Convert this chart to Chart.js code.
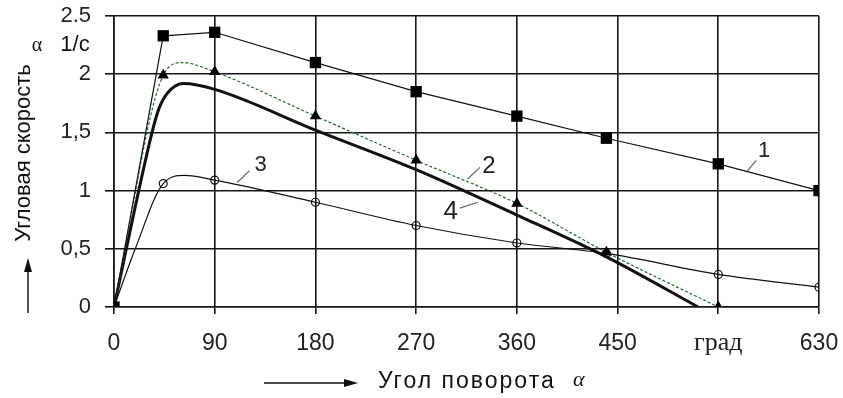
<!DOCTYPE html>
<html>
<head>
<meta charset="utf-8">
<script src="https://cdn.jsdelivr.net/npm/chart.js@4.4.1/dist/chart.umd.min.js"></script>
<style>
  html, body { margin: 0; padding: 0; background: #fff; }
  #wrap { width: 843px; height: 398px; }
</style>
</head>
<body>
<div id="wrap"><canvas id="speedChart" width="843" height="398"></canvas></div>
<script>
// tick labels as on the drawing
var xTickLabels = ['0', '90', '180', '270', '360', '450', 'град', '630'];
var yTickLabels = ['0', '0,5', '1', '1,5', '2', '2.5'];

// angles where markers sit
var markerAngles = [0, 44, 90, 180, 270, 360, 440, 540, 630];

// curve 1 (squares)
var angles1 = [0, 44, 90, 180, 270, 360, 440, 540, 630];
var speed1  = [0, 2.33, 2.36, 2.10, 1.85, 1.64, 1.45, 1.23, 1.00];

// curve 2 (triangles, green)
var angles2 = [0, 44, 61, 90, 180, 270, 360, 440, 540];
var speed2  = [0, 1.99, 2.10, 2.02, 1.64, 1.26, 0.89, 0.47, 0];

// curve 3 (open circles)
var angles3 = [0, 19, 44, 63, 90, 180, 270, 360, 440, 540, 630];
var speed3  = [0, 0.50, 1.06, 1.13, 1.09, 0.90, 0.70, 0.55, 0.46, 0.28, 0.17];

// curve 4 (thick, no markers)
var angles4 = [0, 34, 40, 48, 62, 90, 180, 270, 360, 440, 522];
var speed4  = [0, 1.50, 1.70, 1.84, 1.92, 1.87, 1.52, 1.18, 0.79, 0.43, 0];

function toPoints(xs, ys){
  var pts = [];
  for (var i = 0; i < xs.length; i++){
    pts.push({x: xs[i], y: ys[i]});
  }
  return pts;
}

function markerSize(r){
  return function(ctx){
    var p = ctx.raw;
    if (!p) return 0;
    return markerAngles.indexOf(p.x) >= 0 ? r : 0;
  };
}

var FONT = '"Liberation Sans", Arial, sans-serif';

// numbers of curves with their leader lines (data coords)
var curveNotes = [
  {text: '1', x: 581, y: 1.34, size: 22, from: [566, 1.17], to: [574, 1.26]},
  {text: '2', x: 335, y: 1.21, size: 24, from: [316, 1.10], to: [327, 1.20]},
  {text: '3', x: 131, y: 1.22, size: 22, from: [110, 1.07], to: [121, 1.17]},
  {text: '4', x: 301, y: 0.82, size: 26, from: [309, 0.85], to: [325, 0.90]}
];

function arrow(ctx, x1, y1, x2, y2){
  var a = Math.atan2(y2 - y1, x2 - x1);
  var len = 14, w = 4;
  ctx.beginPath();
  ctx.moveTo(x1, y1);
  ctx.lineTo(x2 - Math.cos(a) * len, y2 - Math.sin(a) * len);
  ctx.stroke();
  ctx.beginPath();
  ctx.moveTo(x2, y2);
  ctx.lineTo(x2 - Math.cos(a) * len - Math.sin(a) * w, y2 - Math.sin(a) * len + Math.cos(a) * w);
  ctx.lineTo(x2 - Math.cos(a) * len + Math.sin(a) * w, y2 - Math.sin(a) * len - Math.cos(a) * w);
  ctx.closePath();
  ctx.fill();
}

var notesPlugin = {
  id: 'notes',
  afterDraw: function(chart){
    var ctx = chart.ctx;
    var xs = chart.scales.x, ys = chart.scales.y;
    ctx.save();
    ctx.fillStyle = '#222';
    ctx.strokeStyle = '#222';
    ctx.lineWidth = 1.5;

    // curve numbers
    curveNotes.forEach(function(n){
      ctx.strokeStyle = '#666';
      ctx.lineWidth = 1.2;
      ctx.beginPath();
      ctx.moveTo(xs.getPixelForValue(n.from[0]), ys.getPixelForValue(n.from[1]));
      ctx.lineTo(xs.getPixelForValue(n.to[0]), ys.getPixelForValue(n.to[1]));
      ctx.stroke();
      ctx.font = n.size + 'px ' + FONT;
      ctx.textAlign = 'center';
      ctx.textBaseline = 'middle';
      ctx.fillText(n.text, xs.getPixelForValue(n.x), ys.getPixelForValue(n.y));
    });

    ctx.strokeStyle = '#111';
    ctx.fillStyle = '#111';
    ctx.lineWidth = 1.5;

    // x title with arrow
    arrow(ctx, 264, 383, 358, 383);
    ctx.font = '23px ' + FONT;
    ctx.textAlign = 'left';
    ctx.textBaseline = 'middle';
    if ('letterSpacing' in ctx) ctx.letterSpacing = '2px';
    ctx.fillText('Угол поворота', 378, 382);
    if ('letterSpacing' in ctx) ctx.letterSpacing = '0px';
    ctx.font = 'italic 22px "Liberation Serif", serif';
    ctx.fillText('α', 573, 380);

    // y title with arrow
    arrow(ctx, 28, 313, 28, 258);
    ctx.save();
    ctx.translate(30, 153);
    ctx.rotate(-Math.PI / 2);
    ctx.font = '22px ' + FONT;
    ctx.textAlign = 'center';
    ctx.textBaseline = 'alphabetic';
    ctx.fillText('Угловая скорость', 0, 0);
    ctx.restore();

    // units
    ctx.textAlign = 'center';
    ctx.textBaseline = 'middle';
    ctx.font = '20px "Liberation Serif", serif';
    ctx.fillText('α', 37, 46);
    ctx.font = '22px ' + FONT;
    ctx.fillText('1/с', 75, 45);
    ctx.restore();
  }
};

var gridColor = '#151515';

var ctx = document.getElementById('speedChart').getContext('2d');
var chart = new Chart(ctx, {
  type: 'line',
  data: {
    datasets: [{
      label: '1',
      data: toPoints(angles1, speed1),
      borderColor: '#111',
      borderWidth: 1.2,
      pointStyle: 'rect',
      pointRadius: markerSize(8),
      pointBackgroundColor: '#000',
      pointBorderColor: '#000',
      pointBorderWidth: 0,
      tension: 0
    }, {
      label: '2',
      data: toPoints(angles2, speed2),
      borderColor: '#236b23',
      borderWidth: 1.2,
      borderDash: [3, 2],
      cubicInterpolationMode: 'monotone',
      pointStyle: 'triangle',
      pointRadius: markerSize(6.5),
      pointBackgroundColor: '#000',
      pointBorderColor: '#000',
      pointBorderWidth: 0
    }, {
      label: '3',
      data: toPoints(angles3, speed3),
      borderColor: '#111',
      borderWidth: 1.2,
      cubicInterpolationMode: 'monotone',
      pointStyle: 'circle',
      pointRadius: markerSize(4),
      pointBackgroundColor: 'rgba(0,0,0,0)',
      pointBorderColor: '#111',
      pointBorderWidth: 1.2
    }, {
      label: '4',
      data: toPoints(angles4, speed4),
      borderColor: '#111',
      borderWidth: 3,
      cubicInterpolationMode: 'monotone',
      pointRadius: 0
    }]
  },
  options: {
    responsive: false,
    animation: false,
    events: [],
    layout: { padding: { left: 0, top: 16, right: 24, bottom: 0 } },
    plugins: {
      legend: { display: false },
      tooltip: { enabled: false }
    },
    scales: {
      x: {
        type: 'linear',
        min: 0,
        max: 630,
        afterFit: function(scale){
          scale.height = 91;
          scale.paddingLeft = 0;
          scale.paddingRight = 0;
        },
        grid: { color: gridColor, lineWidth: 1.6, tickLength: 7 },
        border: { color: gridColor, width: 1.6 },
        ticks: {
          stepSize: 90,
          autoSkip: false,
          maxRotation: 0,
          padding: 16,
          color: '#222',
          font: function(c){
            if (c.tick && c.tick.value === 540) return { family: '"Liberation Serif", "Times New Roman", serif', size: 26, lineHeight: 1.0 };
            return { family: FONT, size: 23 };
          },
          callback: function(v){ return xTickLabels[Math.round(v / 90)]; }
        }
      },
      y: {
        min: 0,
        max: 2.5,
        afterFit: function(scale){
          scale.width = 114;
          scale.paddingTop = 0;
          scale.paddingBottom = 0;
        },
        grid: { color: gridColor, lineWidth: 1.6, tickLength: 9 },
        border: { color: gridColor, width: 1.6 },
        ticks: {
          stepSize: 0.5,
          padding: 14,
          color: '#222',
          font: { family: FONT, size: 22 },
          callback: function(v){ return yTickLabels[Math.round(v * 2)]; }
        }
      }
    }
  },
  plugins: [notesPlugin]
});
</script>
</body>
</html>
